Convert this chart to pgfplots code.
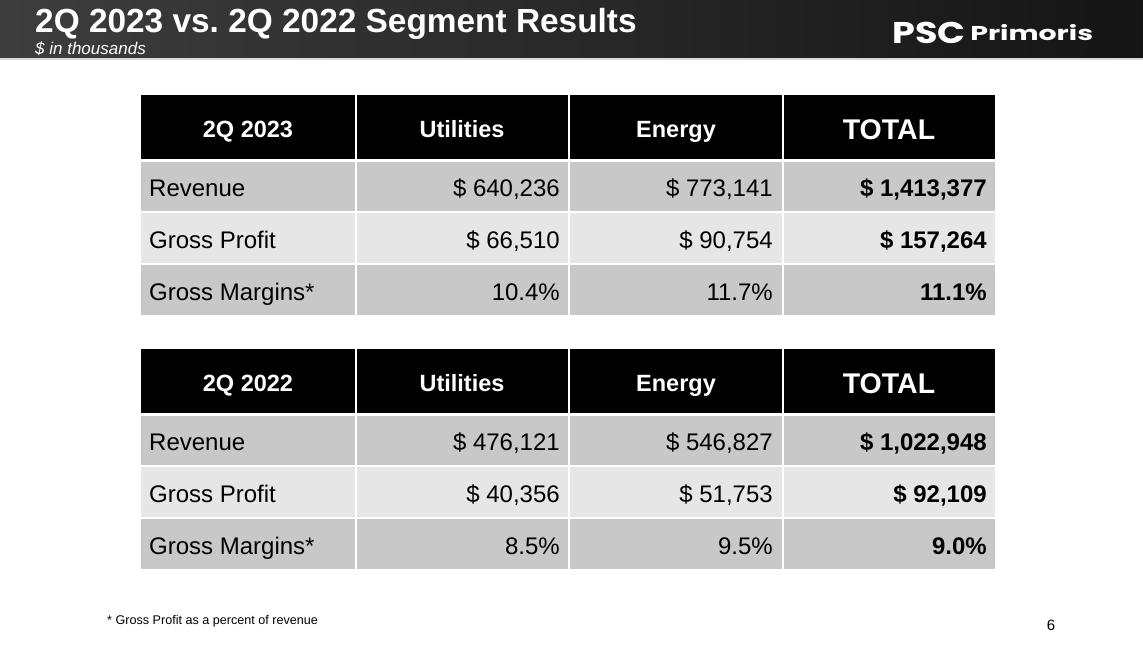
\documentclass[border=0pt]{standalone}
\usepackage{pgfplots}
\pgfplotsset{compat=1.18}
\usepackage{fontspec}
\setmainfont{Liberation Sans}
\newfontfamily\logofont{Poppins}
\frenchspacing
\definecolor{rowdark}{HTML}{C8C8C8}
\definecolor{rowlight}{HTML}{E6E6E6}
\newcommand\fs[1]{\fontsize{#1}{#1}\selectfont}
% #1 header top, #2 header bottom, #3 r1 top, #4 r1 bottom, #5 r2 top, #6 r2 bottom, #7 r3 top, #8 r3 bottom
\newcommand\segtable[8]{%
  \fill[black] (axis cs:141,#1) rectangle (axis cs:995,#2);
  \fill[rowdark] (axis cs:141,#3) rectangle (axis cs:995,#4);
  \fill[rowlight] (axis cs:141,#5) rectangle (axis cs:995,#6);
  \fill[rowdark] (axis cs:141,#7) rectangle (axis cs:995,#8);
  \draw[white,line width=1.6pt] (axis cs:356,#1) -- (axis cs:356,#8);
  \draw[white,line width=1.6pt] (axis cs:569,#1) -- (axis cs:569,#8);
  \draw[white,line width=1.6pt] (axis cs:783,#1) -- (axis cs:783,#8);
}
\begin{document}
\begin{tikzpicture}
\begin{axis}[width=1143pt,height=645pt,scale only axis,hide axis,
  xmin=0,xmax=1143,ymin=0,ymax=645,y dir=reverse,clip=false]
\fill[white] (axis cs:0,0) rectangle (axis cs:1143,645);
% header band
\shade[left color=black!76,right color=black!92] (axis cs:0,0) rectangle (axis cs:1143,58);
\fill[black!15] (axis cs:0,58) rectangle (axis cs:1143,60);
\node[anchor=base west,inner sep=0,text=white,font=\fs{33.4}\bfseries] at (axis cs:35,32) {2Q 2023 vs.\ 2Q 2022 Segment Results};
\node[anchor=base west,inner sep=0,text=white,font=\fs{17}\itshape] at (axis cs:35,54) {\$ in thousands};
% logo
\node[anchor=base west,inner sep=0,text=white,font=\logofont\fs{30}\bfseries,xscale=1.22] at (axis cs:892,43) {PSC};
\node[anchor=base west,inner sep=0,text=white,font=\logofont\fs{20}\bfseries,xscale=1.42] at (axis cs:970,40) {Primoris};
% tables
\segtable{95}{159}{162}{211}{213}{263}{265}{315}
\segtable{349}{413}{416}{465}{467}{517}{519}{569}
% table 1
\node[anchor=base,inner sep=0,text=white,font=\fs{23.5}\bfseries] at (axis cs:248,137) {2Q 2023};
\node[anchor=base,inner sep=0,text=white,font=\fs{23.5}\bfseries] at (axis cs:462,137) {Utilities};
\node[anchor=base,inner sep=0,text=white,font=\fs{23.5}\bfseries] at (axis cs:676,137) {Energy};
\node[anchor=base,inner sep=0,text=white,font=\fs{28.5}\bfseries] at (axis cs:889,139) {TOTAL};
\node[anchor=base west,inner sep=0,font=\fs{24}] at (axis cs:149,196) {Revenue};
\node[anchor=base west,inner sep=0,font=\fs{24}] at (axis cs:149,248) {Gross Profit};
\node[anchor=base west,inner sep=0,font=\fs{24}] at (axis cs:149,300) {Gross Margins*};
\node[anchor=base east,inner sep=0,font=\fs{24}] at (axis cs:560,196) {\$ 640,236};
\node[anchor=base east,inner sep=0,font=\fs{24}] at (axis cs:773,196) {\$ 773,141};
\node[anchor=base east,inner sep=0,font=\fs{24}\bfseries] at (axis cs:987,196) {\$ 1,413,377};
\node[anchor=base east,inner sep=0,font=\fs{24}] at (axis cs:560,248) {\$ 66,510};
\node[anchor=base east,inner sep=0,font=\fs{24}] at (axis cs:773,248) {\$ 90,754};
\node[anchor=base east,inner sep=0,font=\fs{24}\bfseries] at (axis cs:987,248) {\$ 157,264};
\node[anchor=base east,inner sep=0,font=\fs{24}] at (axis cs:560,300) {10.4\%};
\node[anchor=base east,inner sep=0,font=\fs{24}] at (axis cs:773,300) {11.7\%};
\node[anchor=base east,inner sep=0,font=\fs{24}\bfseries] at (axis cs:987,300) {11.1\%};
% table 2
\node[anchor=base,inner sep=0,text=white,font=\fs{23.5}\bfseries] at (axis cs:248,391) {2Q 2022};
\node[anchor=base,inner sep=0,text=white,font=\fs{23.5}\bfseries] at (axis cs:462,391) {Utilities};
\node[anchor=base,inner sep=0,text=white,font=\fs{23.5}\bfseries] at (axis cs:676,391) {Energy};
\node[anchor=base,inner sep=0,text=white,font=\fs{28.5}\bfseries] at (axis cs:889,393) {TOTAL};
\node[anchor=base west,inner sep=0,font=\fs{24}] at (axis cs:149,450) {Revenue};
\node[anchor=base west,inner sep=0,font=\fs{24}] at (axis cs:149,502) {Gross Profit};
\node[anchor=base west,inner sep=0,font=\fs{24}] at (axis cs:149,554) {Gross Margins*};
\node[anchor=base east,inner sep=0,font=\fs{24}] at (axis cs:560,450) {\$ 476,121};
\node[anchor=base east,inner sep=0,font=\fs{24}] at (axis cs:773,450) {\$ 546,827};
\node[anchor=base east,inner sep=0,font=\fs{24}\bfseries] at (axis cs:987,450) {\$ 1,022,948};
\node[anchor=base east,inner sep=0,font=\fs{24}] at (axis cs:560,502) {\$ 40,356};
\node[anchor=base east,inner sep=0,font=\fs{24}] at (axis cs:773,502) {\$ 51,753};
\node[anchor=base east,inner sep=0,font=\fs{24}\bfseries] at (axis cs:987,502) {\$ 92,109};
\node[anchor=base east,inner sep=0,font=\fs{24}] at (axis cs:560,554) {8.5\%};
\node[anchor=base east,inner sep=0,font=\fs{24}] at (axis cs:773,554) {9.5\%};
\node[anchor=base east,inner sep=0,font=\fs{24}\bfseries] at (axis cs:987,554) {9.0\%};
% footnote and page number
\node[anchor=base west,inner sep=0,font=\fs{12.6}] at (axis cs:107,624) {* Gross Profit as a percent of revenue};
\node[anchor=base,inner sep=0,font=\fs{15}] at (axis cs:1051,630) {6};
\end{axis}
\end{tikzpicture}
\end{document}
